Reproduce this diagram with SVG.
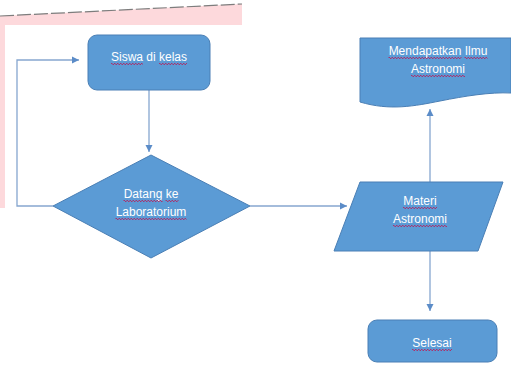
<svg xmlns="http://www.w3.org/2000/svg" width="511" height="372" viewBox="0 0 511 372">
<style>
.shape{fill:#5b9bd5;stroke:#4a7fb5;stroke-width:1}
.lbl{font-family:"Liberation Sans",Arial,sans-serif;font-size:12px;fill:#ffffff;text-anchor:middle}
.sqa{fill:none;stroke:#a8336e;stroke-width:1;stroke-dasharray:1.5 1.5}
.sqb{fill:none;stroke:#a8336e;stroke-width:1;stroke-dasharray:1.5 1.5;stroke-dashoffset:1.5}
.conn{fill:none;stroke:#86a6cf;stroke-width:1.3}
</style>
<defs>
<marker id="ah" markerWidth="8" markerHeight="8" refX="7" refY="4" orient="auto" markerUnits="userSpaceOnUse">
<path d="M0,0.5 L7,4 L0,7.5 Z" fill="#5b8cc8"/>
</marker>
</defs>
<rect width="511" height="372" fill="#ffffff"/>
<g id="background">
<path d="M0,16 L242,4 L242,25 L5,25 L5,208 L0,208 Z" fill="#fdd9dc"/>
<path d="M0,16 L242,4" stroke="#7d7d7d" stroke-width="1.2" stroke-dasharray="14,3" fill="none"/>
</g>
<g id="connectors">
<path class="conn" d="M149,90 V152" marker-end="url(#ah)"/>
<path class="conn" d="M53,206 H17 V60 H79" marker-end="url(#ah)"/>
<path class="conn" d="M250,206 H347" marker-end="url(#ah)"/>
<path class="conn" d="M430,182 V109" marker-end="url(#ah)"/>
<path class="conn" d="M430,250 V311" marker-end="url(#ah)"/>
</g>
<g id="siswa">
<rect class="shape" x="88" y="35" width="122" height="55" rx="9"/>
<text class="lbl" x="149" y="61">Siswa di kelas</text>
<path class="sqa" d="M111,63.5 H143 M159,63.5 H187"/>
<path class="sqb" d="M111,64.5 H143 M159,64.5 H187"/>
</g>
<g id="datang">
<polygon class="shape" points="151,155 250,206 151,258 53,206"/>
<text class="lbl" x="151" y="198">Datang ke</text>
<text class="lbl" x="151" y="216">Laboratorium</text>
<path class="sqa" d="M123.5,200.5 H162.5 M165.5,200.5 H178.5 M115.5,218.5 H186.5"/>
<path class="sqb" d="M123.5,201.5 H162.5 M165.5,201.5 H178.5 M115.5,219.5 H186.5"/>
</g>
<g id="materi">
<polygon class="shape" points="360,182 503,182 478,251 334,251"/>
<text class="lbl" x="420" y="205">Materi</text>
<text class="lbl" x="420" y="223">Astronomi</text>
<path class="sqa" d="M403,207.5 H437 M393,225.5 H447"/>
<path class="sqb" d="M403,208.5 H437 M393,226.5 H447"/>
</g>
<g id="mendapatkan">
<path class="shape" d="M360,38 H511 V93 C490,92 465,96 440,101 C415,106 390,111 360,102 Z"/>
<text class="lbl" x="438" y="55">Mendapatkan Ilmu</text>
<text class="lbl" x="438" y="73">Astronomi</text>
<path class="sqa" d="M388.5,57.5 H461.5 M464.5,57.5 H487.5 M411,75.5 H465"/>
<path class="sqb" d="M388.5,58.5 H461.5 M464.5,58.5 H487.5 M411,76.5 H465"/>
</g>
<g id="selesai">
<rect class="shape" x="368" y="320" width="129" height="42" rx="9"/>
<text class="lbl" x="432" y="347">Selesai</text>
<path class="sqa" d="M412,349.5 H452"/>
<path class="sqb" d="M412,350.5 H452"/>
</g>
</svg>
